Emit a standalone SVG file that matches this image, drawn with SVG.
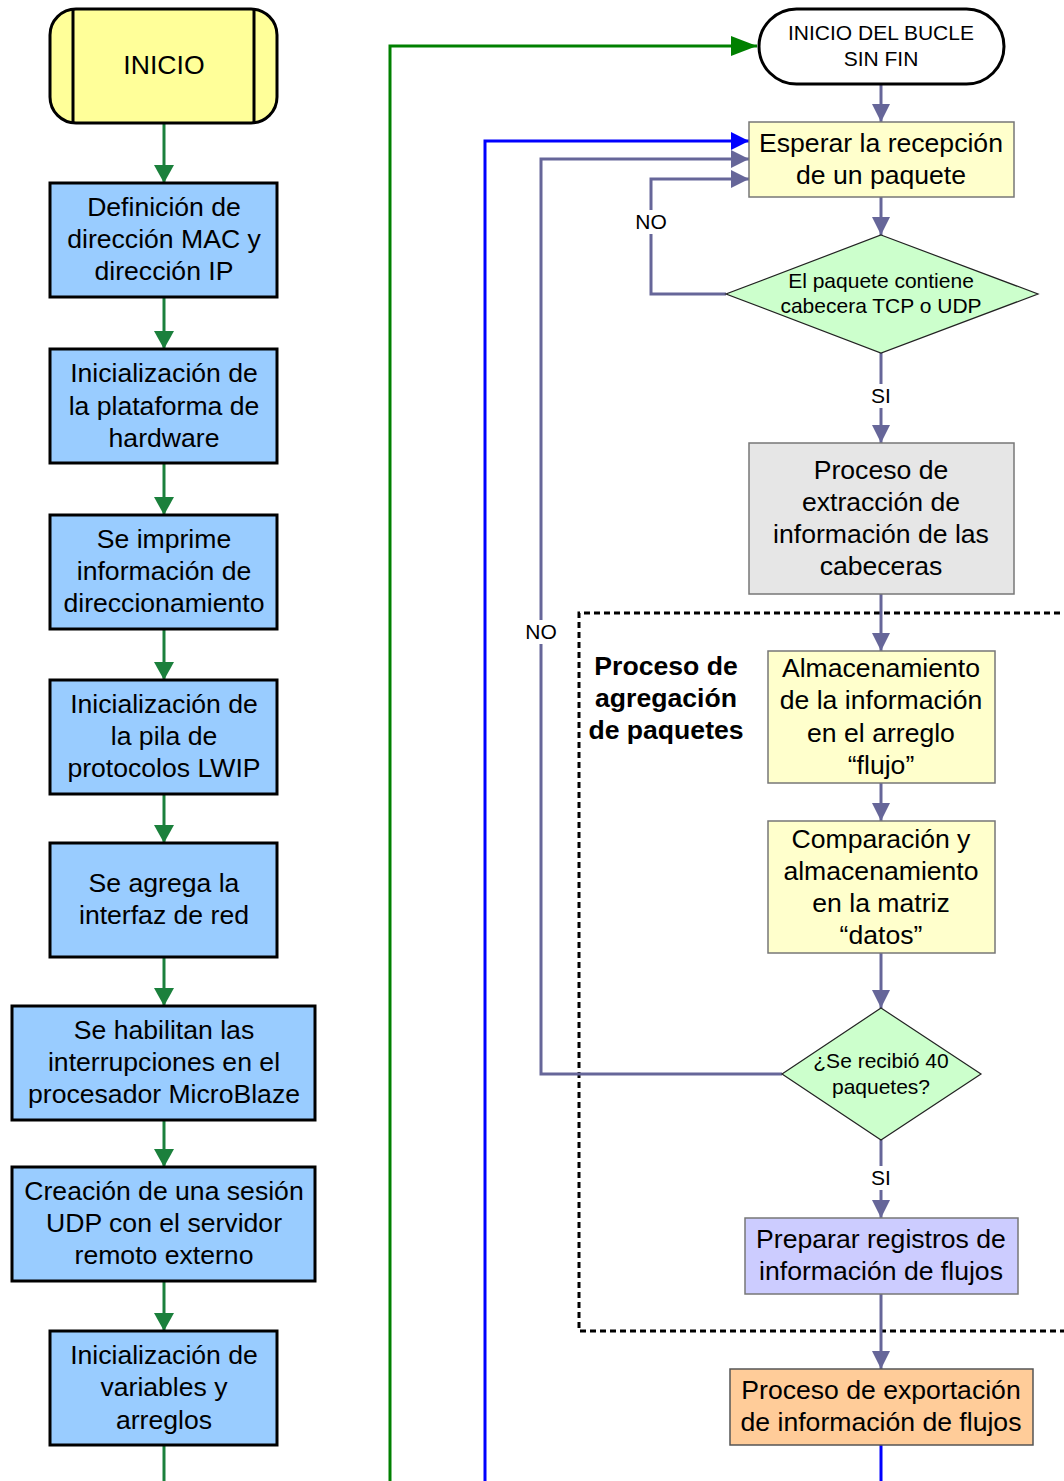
<svg xmlns="http://www.w3.org/2000/svg" width="1064" height="1481" viewBox="0 0 1064 1481">
  <style>
    text { font-family: "Liberation Sans", Arial, sans-serif; fill: #000; text-anchor: middle; }
    .t26 { font-size: 26.6px; }
    .t20 { font-size: 21px; }
    .t19 { font-size: 21px; }
    .bold { font-weight: bold; }
    .init { fill: #99ccff; stroke: #000; stroke-width: 3; }
    .yel { fill: #ffffcc; stroke: #777; stroke-width: 1.5; }
    .dec { fill: #ccffcc; stroke: #222; stroke-width: 1.2; }
    .c-green { fill: none; stroke: #1b803c; stroke-width: 3; }
    .c-loop { fill: none; stroke: #008000; stroke-width: 3; }
    .c-purple { fill: none; stroke: #666699; stroke-width: 3; }
    .c-blue { fill: none; stroke: #0000ff; stroke-width: 3; }
    .lbl-bg { fill: #fff; }
  </style>
  <defs>
    <marker id="ah-green" markerUnits="userSpaceOnUse" markerWidth="20" markerHeight="20" refX="18" refY="10" orient="auto">
      <path d="M0,0 L18,10 L0,20 z" fill="#1b803c"/>
    </marker>
    <marker id="ah-loop" markerUnits="userSpaceOnUse" markerWidth="26" markerHeight="20" refX="26" refY="10" orient="auto">
      <path d="M0,0 L26,10 L0,20 z" fill="#008000"/>
    </marker>
    <marker id="ah-purple" markerUnits="userSpaceOnUse" markerWidth="18" markerHeight="18" refX="18" refY="9" orient="auto">
      <path d="M0,0 L18,9 L0,18 z" fill="#666699"/>
    </marker>
    <marker id="ah-blue" markerUnits="userSpaceOnUse" markerWidth="18" markerHeight="18" refX="18" refY="9" orient="auto">
      <path d="M0,0 L18,9 L0,18 z" fill="#0000ff"/>
    </marker>
  </defs>

  <!-- grouping frame for the aggregation stage -->
  <g id="aggregation-frame">
    <path d="M1070,613 H579 V1331 H1070" fill="none" stroke="#000" stroke-width="3" stroke-dasharray="6,4"/>
    <text class="t26 bold" x="666" y="675">Proceso de</text>
    <text class="t26 bold" x="666" y="707">agregación</text>
    <text class="t26 bold" x="666" y="739">de paquetes</text>
  </g>

  <!-- connectors -->
  <g id="connectors">
    <!-- initialisation chain -->
    <line class="c-green" x1="164" y1="123" x2="164" y2="183" marker-end="url(#ah-green)"/>
    <line class="c-green" x1="164" y1="297" x2="164" y2="349" marker-end="url(#ah-green)"/>
    <line class="c-green" x1="164" y1="463" x2="164" y2="515" marker-end="url(#ah-green)"/>
    <line class="c-green" x1="164" y1="629" x2="164" y2="680" marker-end="url(#ah-green)"/>
    <line class="c-green" x1="164" y1="794" x2="164" y2="843" marker-end="url(#ah-green)"/>
    <line class="c-green" x1="164" y1="957" x2="164" y2="1006" marker-end="url(#ah-green)"/>
    <line class="c-green" x1="164" y1="1120" x2="164" y2="1167" marker-end="url(#ah-green)"/>
    <line class="c-green" x1="164" y1="1281" x2="164" y2="1331" marker-end="url(#ah-green)"/>
    <line class="c-green" x1="164" y1="1445" x2="164" y2="1485"/>

    <!-- entry into the endless loop -->
    <polyline class="c-loop" points="390,1485 390,46 757,46" marker-end="url(#ah-loop)"/>

    <!-- return path after export -->
    <polyline class="c-blue" points="881,1445 881,1485"/>
    <polyline class="c-blue" points="485,1485 485,141 749,141" marker-end="url(#ah-blue)"/>

    <!-- main loop -->
    <line class="c-purple" x1="881" y1="84" x2="881" y2="122" marker-end="url(#ah-purple)"/>
    <line class="c-purple" x1="881" y1="197" x2="881" y2="235" marker-end="url(#ah-purple)"/>
    <polyline class="c-purple" points="726,294 651,294 651,179 749,179" marker-end="url(#ah-purple)"/>
    <line class="c-purple" x1="881" y1="353" x2="881" y2="443" marker-end="url(#ah-purple)"/>
    <line class="c-purple" x1="881" y1="594" x2="881" y2="651" marker-end="url(#ah-purple)"/>
    <line class="c-purple" x1="881" y1="783" x2="881" y2="821" marker-end="url(#ah-purple)"/>
    <line class="c-purple" x1="881" y1="953" x2="881" y2="1008" marker-end="url(#ah-purple)"/>
    <polyline class="c-purple" points="782,1074 541,1074 541,159 749,159" marker-end="url(#ah-purple)"/>
    <line class="c-purple" x1="881" y1="1140" x2="881" y2="1218" marker-end="url(#ah-purple)"/>
    <line class="c-purple" x1="881" y1="1294" x2="881" y2="1369" marker-end="url(#ah-purple)"/>

    <!-- branch labels -->
    <rect class="lbl-bg" x="633" y="210" width="36" height="24"/>
    <text class="t20" x="651" y="229">NO</text>
    <rect class="lbl-bg" x="523" y="620" width="36" height="24"/>
    <text class="t20" x="541" y="639">NO</text>
    <rect class="lbl-bg" x="868" y="384" width="26" height="24"/>
    <text class="t20" x="881" y="403">SI</text>
    <rect class="lbl-bg" x="868" y="1166" width="26" height="24"/>
    <text class="t20" x="881" y="1185">SI</text>
  </g>

  <!-- initialisation column -->
  <g id="inicio">
    <rect x="50" y="9" width="227" height="114" rx="26" fill="#ffff99" stroke="#000" stroke-width="3"/>
    <line x1="73" y1="10" x2="73" y2="122" stroke="#000" stroke-width="3"/>
    <line x1="254" y1="10" x2="254" y2="122" stroke="#000" stroke-width="3"/>
    <text class="t26" x="164" y="74">INICIO</text>
  </g>
  <g id="def-mac-ip">
    <rect class="init" x="50" y="183" width="227" height="114"/>
    <text class="t26" x="164" y="216">Definición de</text>
    <text class="t26" x="164" y="248">dirección MAC y</text>
    <text class="t26" x="164" y="280">dirección IP</text>
  </g>
  <g id="init-hw">
    <rect class="init" x="50" y="349" width="227" height="114"/>
    <text class="t26" x="164" y="382">Inicialización de</text>
    <text class="t26" x="164" y="415">la plataforma de</text>
    <text class="t26" x="164" y="447">hardware</text>
  </g>
  <g id="print-addr">
    <rect class="init" x="50" y="515" width="227" height="114"/>
    <text class="t26" x="164" y="548">Se imprime</text>
    <text class="t26" x="164" y="580">información de</text>
    <text class="t26" x="164" y="612">direccionamiento</text>
  </g>
  <g id="init-lwip">
    <rect class="init" x="50" y="680" width="227" height="114"/>
    <text class="t26" x="164" y="713">Inicialización de</text>
    <text class="t26" x="164" y="745">la pila de</text>
    <text class="t26" x="164" y="777">protocolos LWIP</text>
  </g>
  <g id="add-netif">
    <rect class="init" x="50" y="843" width="227" height="114"/>
    <text class="t26" x="164" y="892">Se agrega la</text>
    <text class="t26" x="164" y="924">interfaz de red</text>
  </g>
  <g id="enable-irq">
    <rect class="init" x="12" y="1006" width="303" height="114"/>
    <text class="t26" x="164" y="1039">Se habilitan las</text>
    <text class="t26" x="164" y="1071">interrupciones en el</text>
    <text class="t26" x="164" y="1103">procesador MicroBlaze</text>
  </g>
  <g id="udp-session">
    <rect class="init" x="12" y="1167" width="303" height="114"/>
    <text class="t26" x="164" y="1200">Creación de una sesión</text>
    <text class="t26" x="164" y="1232">UDP con el servidor</text>
    <text class="t26" x="164" y="1264">remoto externo</text>
  </g>
  <g id="init-vars">
    <rect class="init" x="50" y="1331" width="227" height="114"/>
    <text class="t26" x="164" y="1364">Inicialización de</text>
    <text class="t26" x="164" y="1396">variables y</text>
    <text class="t26" x="164" y="1429">arreglos</text>
  </g>

  <!-- endless loop column -->
  <g id="loop-start">
    <rect x="759" y="9" width="245" height="75" rx="37.5" fill="#fff" stroke="#000" stroke-width="3"/>
    <text class="t20" x="881" y="40">INICIO DEL BUCLE</text>
    <text class="t20" x="881" y="66">SIN FIN</text>
  </g>
  <g id="wait-packet">
    <rect class="yel" x="749" y="122" width="265" height="75"/>
    <text class="t26" x="881" y="152">Esperar la recepción</text>
    <text class="t26" x="881" y="184">de un paquete</text>
  </g>
  <g id="check-tcp-udp">
    <polygon class="dec" points="881,235 1038,294 881,353 726,294"/>
    <text class="t19" x="881" y="288">El paquete contiene</text>
    <text class="t19" x="881" y="313">cabecera TCP o UDP</text>
  </g>
  <g id="extract-headers">
    <rect x="749" y="443" width="265" height="151" fill="#e6e6e6" stroke="#777" stroke-width="1.5"/>
    <text class="t26" x="881" y="479">Proceso de</text>
    <text class="t26" x="881" y="511">extracción de</text>
    <text class="t26" x="881" y="543">información de las</text>
    <text class="t26" x="881" y="575">cabeceras</text>
  </g>
  <g id="store-flujo">
    <rect class="yel" x="768" y="651" width="227" height="132"/>
    <text class="t26" x="881" y="677">Almacenamiento</text>
    <text class="t26" x="881" y="709">de la información</text>
    <text class="t26" x="881" y="742">en el arreglo</text>
    <text class="t26" x="881" y="774">“flujo”</text>
  </g>
  <g id="store-datos">
    <rect class="yel" x="768" y="821" width="227" height="132"/>
    <text class="t26" x="881" y="848">Comparación y</text>
    <text class="t26" x="881" y="880">almacenamiento</text>
    <text class="t26" x="881" y="912">en la matriz</text>
    <text class="t26" x="881" y="944">“datos”</text>
  </g>
  <g id="check-40">
    <polygon class="dec" points="881,1008 981,1074 881,1140 782,1074"/>
    <text class="t19" x="881" y="1068">¿Se recibió 40</text>
    <text class="t19" x="881" y="1094">paquetes?</text>
  </g>
  <g id="prepare-records">
    <rect x="745" y="1218" width="273" height="76" fill="#ccccff" stroke="#777" stroke-width="1.5"/>
    <text class="t26" x="881" y="1248">Preparar registros de</text>
    <text class="t26" x="881" y="1280">información de flujos</text>
  </g>
  <g id="export-flows">
    <rect x="730" y="1369" width="303" height="76" fill="#ffcc99" stroke="#555" stroke-width="1.5"/>
    <text class="t26" x="881" y="1399">Proceso de exportación</text>
    <text class="t26" x="881" y="1431">de información de flujos</text>
  </g>
</svg>
